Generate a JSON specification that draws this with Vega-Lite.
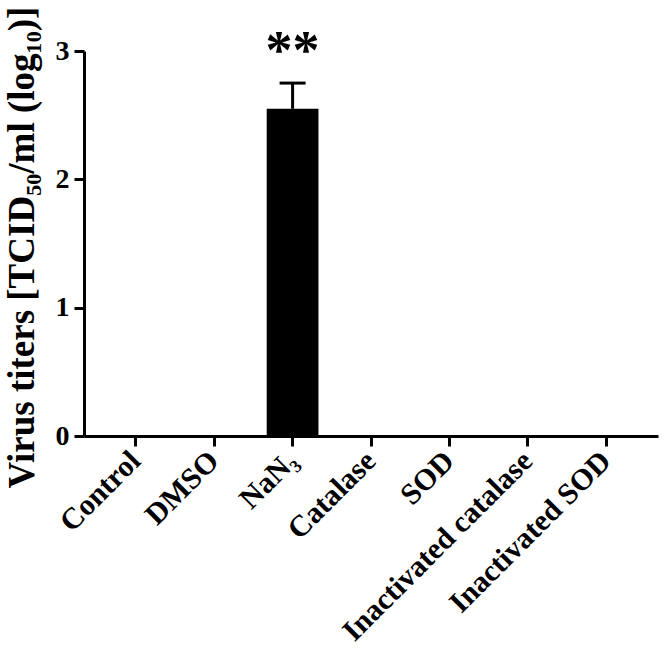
{
  "$schema": "https://vega.github.io/schema/vega-lite/v6.json",
  "width": 574,
  "height": 385,
  "autosize": {"type": "none"},
  "padding": {"left": 84, "top": 51, "right": 8, "bottom": 217},
  "background": "white",
  "data": {
    "values": [
      {"group": "Control", "mean": 0, "upper": 0, "sig": ""},
      {"group": "DMSO", "mean": 0, "upper": 0, "sig": ""},
      {"group": "NaN₃", "mean": 2.55, "upper": 2.75, "sig": "**"},
      {"group": "Catalase", "mean": 0, "upper": 0, "sig": ""},
      {"group": "SOD", "mean": 0, "upper": 0, "sig": ""},
      {"group": "Inactivated catalase", "mean": 0, "upper": 0, "sig": ""},
      {"group": "Inactivated SOD", "mean": 0, "upper": 0, "sig": ""}
    ]
  },
  "encoding": {
    "x": {
      "field": "group",
      "type": "nominal",
      "sort": null,
      "scale": {"paddingInner": 0.34, "paddingOuter": 0.33},
      "axis": {
        "title": null,
        "labelAngle": -45,
        "labelAlign": "right",
        "labelBaseline": "middle",
        "labelFont": "Liberation Serif",
        "labelFontWeight": "bold",
        "labelFontSize": 30,
        "labelColor": "black",
        "labelLimit": 0,
        "domainColor": "black",
        "domainWidth": 3,
        "tickColor": "black",
        "tickWidth": 3,
        "tickSize": 10,
        "labelPadding": 10
      }
    }
  },
  "layer": [
    {
      "mark": {"type": "bar", "color": "black"},
      "encoding": {
        "y": {
          "field": "mean",
          "type": "quantitative",
          "scale": {"domain": [0, 3]},
          "axis": {
            "title": "Virus titers [TCID₅₀/ml (log₁₀)]",
            "titleFont": "Liberation Serif",
            "titleFontWeight": "bold",
            "titleFontSize": 37,
            "titleColor": "black",
            "titlePadding": 14,
            "titleY": 196,
            "values": [0, 1, 2, 3],
            "format": "d",
            "grid": false,
            "labelFont": "Liberation Serif",
            "labelFontWeight": "bold",
            "labelFontSize": 28,
            "labelColor": "black",
            "labelPadding": 5,
            "domainColor": "black",
            "domainWidth": 3,
            "tickColor": "black",
            "tickWidth": 3,
            "tickSize": 10
          }
        }
      }
    },
    {
      "mark": {"type": "rule", "color": "black", "strokeWidth": 3},
      "encoding": {
        "y": {"field": "mean", "type": "quantitative"},
        "y2": {"field": "upper"}
      }
    },
    {
      "mark": {"type": "tick", "color": "black", "thickness": 3, "size": 26, "orient": "horizontal"},
      "encoding": {
        "y": {"field": "upper", "type": "quantitative"},
        "opacity": {"condition": {"test": "datum.upper > 0", "value": 1}, "value": 0}
      }
    },
    {
      "mark": {"type": "text", "font": "Liberation Serif", "fontWeight": "bold", "fontSize": 54, "baseline": "top", "dy": -58, "color": "black"},
      "encoding": {
        "y": {"field": "upper", "type": "quantitative"},
        "text": {"field": "sig"}
      }
    }
  ],
  "config": {"view": {"stroke": null}}
}
